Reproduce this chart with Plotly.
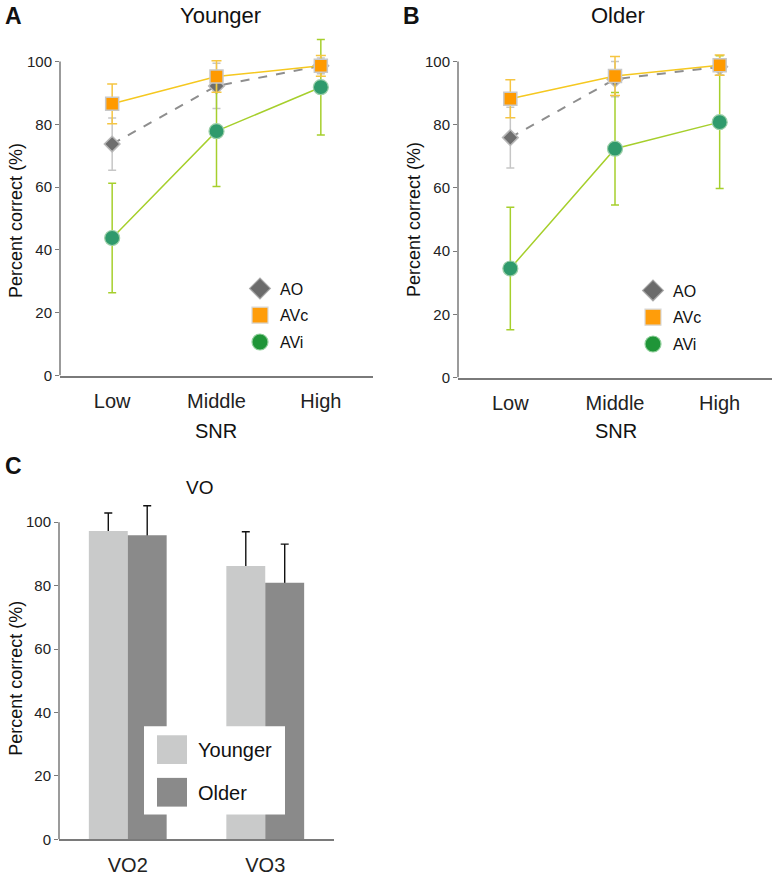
import plotly.graph_objects as go

# ---------------- data ----------------
snr = ["Low", "Middle", "High"]

young_ao = [73.7, 92.2, 98.6]
young_ao_sd = [8.3, 7.2, 2.5]
young_avc = [86.5, 95.2, 98.6]
young_avc_sd = [6.3, 5.0, 3.3]
young_avi = [43.8, 77.8, 91.8]
young_avi_sd = [17.4, 17.6, 15.2]

old_ao = [75.9, 94.4, 98.3]
old_ao_sd = [9.6, 5.6, 2.5]
old_avc = [88.2, 95.4, 98.8]
old_avc_sd = [6.0, 6.2, 3.2]
old_avi = [34.5, 72.4, 80.8]
old_avi_sd = [19.4, 17.8, 21.0]

vo_conditions = ["VO2", "VO3"]
vo_younger = [97.2, 86.2]
vo_younger_sd = [5.7, 10.8]
vo_older = [95.9, 80.9]
vo_older_sd = [9.3, 12.2]
hidden_shoe = [3, 3]

y_ticks = [0, 20, 40, 60, 80, 100]

# ---------------- styling ----------------
W, H = 776, 882
FONT = "Liberation Sans, Arial, sans-serif"
AXIS_GRAY = "#7a7a7a"


def px(x):
    return x / W


def py(y):
    return 1 - y / H


fig = go.Figure()


def add_panel(xa, ya, ao, ao_sd, avc, avc_sd, avi, avi_sd, legend):
    fig.add_trace(go.Scatter(
        x=snr, y=ao, mode="lines+markers", xaxis=xa, yaxis=ya,
        line=dict(color="#8e8e8e", width=2, dash="dash"),
        marker=dict(symbol="diamond", size=12, color="#6e6e6e",
                    line=dict(color="#b8b8b8", width=1.5)),
        error_y=dict(type="data", array=ao_sd, color="#c6c6c6",
                     thickness=1.5, width=4),
        showlegend=False, cliponaxis=False))
    fig.add_trace(go.Scatter(
        x=snr, y=avi, mode="lines+markers", xaxis=xa, yaxis=ya,
        line=dict(color="#a6cf2c", width=1.5),
        marker=dict(symbol="circle", size=15, color="#2f9a6c",
                    line=dict(color="#9ccfa8", width=1.2)),
        error_y=dict(type="data", array=avi_sd, color="#a6cf2c",
                     thickness=1.5, width=4),
        showlegend=False, cliponaxis=False))
    fig.add_trace(go.Scatter(
        x=snr, y=avc, mode="lines+markers", xaxis=xa, yaxis=ya,
        line=dict(color="#f5c820", width=1.5),
        marker=dict(symbol="square", size=13, color="#ff9a00",
                    line=dict(color="#c8c8c8", width=1.5)),
        error_y=dict(type="data", array=avc_sd, color="#f5c542",
                     thickness=1.5, width=5),
        showlegend=False, cliponaxis=False))
    # legend entries
    for name, sym, col, lcol in [("AO", "diamond", "#6b6b6b", "#a8a8a8"),
                                 ("AVc", "square", "#ff9d0a", "#d8d8d8"),
                                 ("AVi", "circle", "#1f9538", "#8fcf9a")]:
        fig.add_trace(go.Scatter(
            x=[None], y=[None], mode="markers", name=name, xaxis=xa, yaxis=ya,
            marker=dict(symbol=sym, size=16, color=col,
                        line=dict(color=lcol, width=1.2)),
            legend=legend, legendgroup=legend + name, showlegend=True))


add_panel("x", "y", young_ao, young_ao_sd, young_avc, young_avc_sd,
          young_avi, young_avi_sd, "legend")
add_panel("x2", "y2", old_ao, old_ao_sd, old_avc, old_avc_sd,
          old_avi, old_avi_sd, "legend2")

# Panel C: error bars (lower layer, transparent bars) then visible bars on top
for vals, sd, nm in [(vo_younger, vo_younger_sd, "Younger"), (vo_older, vo_older_sd, "Older")]:
    fig.add_trace(go.Bar(
        x=vo_conditions, y=vals, name=nm, xaxis="x3", yaxis="y3",
        marker=dict(color="rgba(0,0,0,0)", line=dict(width=0)),
        error_y=dict(type="data", array=sd, arrayminus=hidden_shoe,
                     symmetric=False, color="#111111", thickness=1.4, width=4),
        showlegend=False, hoverinfo="skip"))
fig.add_trace(go.Bar(
    x=vo_conditions, y=vo_younger, name="Younger", xaxis="x3", yaxis="y4",
    marker=dict(color="#c9caca", line=dict(width=0)), showlegend=False))
fig.add_trace(go.Bar(
    x=vo_conditions, y=vo_older, name="Older", xaxis="x3", yaxis="y4",
    marker=dict(color="#8a8a8a", line=dict(width=0)), showlegend=False))

# ---------------- axes ----------------
xcommon = dict(type="category", showline=True, linecolor=AXIS_GRAY, linewidth=1.5,
               ticks="", showgrid=False, zeroline=False,
               tickfont=dict(size=20, color="#222222", family=FONT),
               ticklabelstandoff=7)
ycommon = dict(range=[0, 110], showline=False, showgrid=False, zeroline=False,
               tickvals=y_ticks, ticks="outside", ticklen=4, tickwidth=1.2,
               tickcolor=AXIS_GRAY,
               tickfont=dict(size=15, color="#222222", family=FONT))

fig.update_layout(
    xaxis=dict(domain=[px(60), px(373)], range=[-0.5, 2.5], anchor="y", **xcommon),
    yaxis=dict(domain=[py(379), py(379 - 110 * 3.17)], anchor="x", **ycommon),
    xaxis2=dict(domain=[px(458), px(772)], range=[-0.5, 2.5], anchor="y2", **xcommon),
    yaxis2=dict(domain=[py(381), py(381 - 110 * 3.19)], anchor="x2", **ycommon),
    xaxis3=dict(domain=[px(59), px(334)], range=[-0.5, 1.5], anchor="y3", **xcommon),
    yaxis3=dict(domain=[py(847), py(847 - 110 * 3.2)], anchor="x3", **ycommon),
    yaxis4=dict(overlaying="y3", range=[0, 110], visible=False, anchor="x3"),
    barmode="group", bargap=0.434, bargroupgap=0,
)

# y-axis lines from 0 to 100
for xr, yr in [("x", "y"), ("x2", "y2"), ("x3", "y3")]:
    fig.add_shape(type="line", xref=f"{xr} domain", yref=yr, x0=0, x1=0,
                  y0=0, y1=100, line=dict(color=AXIS_GRAY, width=1.5))

# legend box for panel C
fig.add_shape(type="rect", xref="paper", yref="paper", x0=px(144), x1=px(285),
              y0=py(822), y1=py(733), fillcolor="white", line=dict(width=0),
              layer="above")
fig.add_shape(type="rect", xref="paper", yref="paper", x0=px(157), x1=px(187),
              y0=py(771), y1=py(742), fillcolor="#c9caca", line=dict(width=0),
              layer="above")
fig.add_shape(type="rect", xref="paper", yref="paper", x0=px(157), x1=px(187),
              y0=py(814), y1=py(785), fillcolor="#8a8a8a", line=dict(width=0),
              layer="above")

ann = []


def text(x, y, s, size, bold=False, angle=0, xanchor="center"):
    ann.append(dict(x=px(x), y=py(y), xref="paper", yref="paper", text=f"<b>{s}</b>" if bold else s,
                    showarrow=False, textangle=angle, xanchor=xanchor, yanchor="middle",
                    font=dict(size=size, color="#111111", family=FONT)))


text(14, 16, "A", 23, bold=True)
text(411, 16, "B", 23, bold=True)
text(14, 470, "C", 23, bold=True)
text(220, 16, "Younger", 22)
text(618, 16, "Older", 22)
text(200, 492, "VO", 19)
text(16, 223, "Percent correct (%)", 18, angle=-90)
text(414, 222, "Percent correct (%)", 18, angle=-90)
text(16, 685, "Percent correct (%)", 18, angle=-90)
text(216, 435, "SNR", 20)
text(616, 435, "SNR", 20)
text(196, 757, "Younger", 20, xanchor="left")
text(196, 800, "Older", 20, xanchor="left")

legcommon = dict(bgcolor="rgba(0,0,0,0)", borderwidth=0, xanchor="left", yanchor="top",
                 font=dict(size=16, color="#111111", family=FONT),
                 tracegroupgap=3, itemsizing="trace")
fig.update_layout(
    legend=dict(x=px(240), y=py(274), **legcommon),
    legend2=dict(x=px(633), y=py(276), **legcommon),
    annotations=ann,
    width=W, height=H,
    margin=dict(l=0, r=0, t=0, b=0),
    paper_bgcolor="white", plot_bgcolor="white",
    font=dict(family=FONT),
)

page_fix = (
    "var de=document.documentElement, b=document.body;"
    "de.style.margin='0'; b.style.margin='0'; b.style.padding='0';"
    "de.style.height='882px'; b.style.height='882px';"
    "de.style.overflow='hidden'; b.style.overflow='hidden';"
)
fig.write_html("out.html", config={"displayModeBar": False}, post_script=page_fix)
